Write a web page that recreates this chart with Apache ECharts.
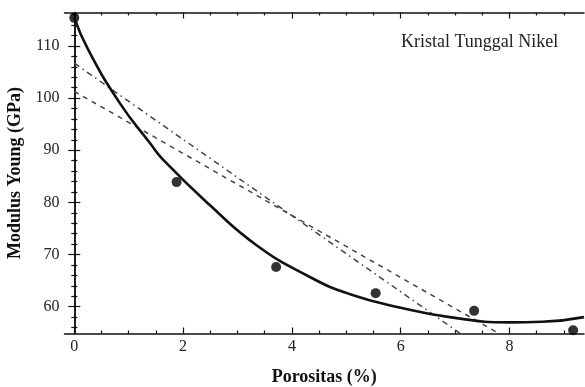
<!DOCTYPE html>
<html>
<head>
<meta charset="utf-8">
<script src="https://cdn.jsdelivr.net/npm/echarts@6/dist/echarts.min.js"></script>
<style>
  html, body { margin: 0; padding: 0; background: #fff; }
  #chart { width: 585px; height: 387px; }
</style>
</head>
<body>
<div id="chart"></div>
<script>
// measured points
let porosity = [0, 1.88, 3.71, 5.54, 7.35, 9.17]
let modulus = [115.4, 83.9, 67.6, 62.6, 59.2, 55.5]

// fitted curve
let curveX = [0, 0.26, 0.84, 1.39, 1.64, 2.49, 3.35, 4.33, 5.07, 6.0, 6.9, 8.0, 8.6, 9.37]
let curveY = [115.4, 109.2, 99.0, 91.4, 88.1, 79.5, 71.8, 65.7, 62.4, 59.8, 58.0, 57.0, 57.1, 58.0]

// straight fits (start and end where they leave the frame)
let dashX = [0, 7.8]
let dashY = [101.3, 54.9]
let dotDashX = [0, 7.09]
let dotDashY = [106.7, 54.9]

// ticks
let xMajor = [0, 2, 4, 6, 8]
let xMinor = [0.5, 1, 1.5, 2.5, 3, 3.5, 4.5, 5, 5.5, 6.5, 7, 7.5, 8.5, 9]
let yMajor = [60, 70, 80, 90, 100, 110]
let yMinor = [56, 58, 62, 64, 66, 68, 72, 74, 76, 78, 82, 84, 86, 88, 92, 94, 96, 98, 102, 104, 106, 108, 112, 114, 116]

let xMin = -0.18, xMax = 9.37
let yMin = 54.86, yMax = 116.43

let font = 'Liberation Serif'
let ink = '#111'

function zip(xs, ys) {
  return xs.map((x, i) => [x, ys[i]])
}

function xAxisOf(position, ticks, len, withLine, withLabels) {
  return {
    type: 'value', position: position, min: xMin, max: xMax,
    splitLine: {show: false},
    axisLine: {show: withLine, lineStyle: {color: ink, width: 1.5}},
    axisTick: {show: true, inside: true, length: len, customValues: ticks,
      lineStyle: {color: ink, width: 1.2}},
    axisLabel: withLabels
      ? {show: true, customValues: xMajor, margin: 5, color: '#222', fontFamily: font, fontSize: 16}
      : {show: false}
  }
}

function yAxisOf(position, ticks, len, withLine, withLabels) {
  return {
    type: 'value', position: position, min: yMin, max: yMax,
    splitLine: {show: false},
    axisLine: {show: withLine, lineStyle: {color: ink, width: 1.5}},
    axisTick: {show: true, inside: true, length: len, customValues: ticks,
      lineStyle: {color: ink, width: 1.2}},
    axisLabel: withLabels
      ? {show: true, customValues: yMajor, margin: 5, color: '#222', fontFamily: font, fontSize: 16}
      : {show: false}
  }
}

let xAxes = [
  xAxisOf('bottom', xMajor, 6, true, true),
  xAxisOf('bottom', xMinor, 3, false, false),
  xAxisOf('top', xMajor, 6, true, false),
  xAxisOf('top', xMinor, 3, false, false)
]
xAxes[0].name = 'Porositas (%)'
xAxes[0].nameLocation = 'middle'
xAxes[0].nameGap = 35
xAxes[0].nameTextStyle = {fontFamily: font, fontSize: 18, fontWeight: 'bold', color: '#111'}

let yAxes = [
  yAxisOf('left', yMajor, 6, true, true),
  yAxisOf('left', yMinor, 3, false, false),
  yAxisOf('right', yMajor, 6, true, false),
  yAxisOf('right', yMinor, 3, false, false)
]
yAxes[0].name = 'Modulus Young (GPa)'
yAxes[0].nameLocation = 'middle'
yAxes[0].nameGap = 33
yAxes[0].nameTextStyle = {fontFamily: font, fontSize: 18, fontWeight: 'bold', color: '#111'}

let chart = echarts.init(document.getElementById('chart'))
chart.setOption({
  backgroundColor: '#fff',
  animation: false,
  grid: {left: 64.5, right: 1, top: 12.5, bottom: 53.5, outerBoundsMode: 'none', containLabel: false},
  xAxis: xAxes,
  yAxis: yAxes,
  graphic: [{
    type: 'text', left: 401, top: 33,
    style: {text: 'Kristal Tunggal Nikel', fontFamily: font, fontSize: 18, fill: '#222'}
  }],
  series: [
    {
      type: 'line', data: zip(dashX, dashY), showSymbol: false,
      lineStyle: {color: '#444', width: 1.5, type: [5, 5]}
    },
    {
      type: 'line', data: zip(dotDashX, dotDashY), showSymbol: false,
      lineStyle: {color: '#444', width: 1.5, type: [6, 4, 1.5, 4]}
    },
    {
      type: 'line', data: zip(curveX, curveY), showSymbol: false, smooth: true,
      lineStyle: {color: ink, width: 2.6}
    },
    {
      type: 'scatter', data: zip(porosity, modulus), symbolSize: 10,
      itemStyle: {color: '#000'}
    }
  ]
})
</script>
</body>
</html>
